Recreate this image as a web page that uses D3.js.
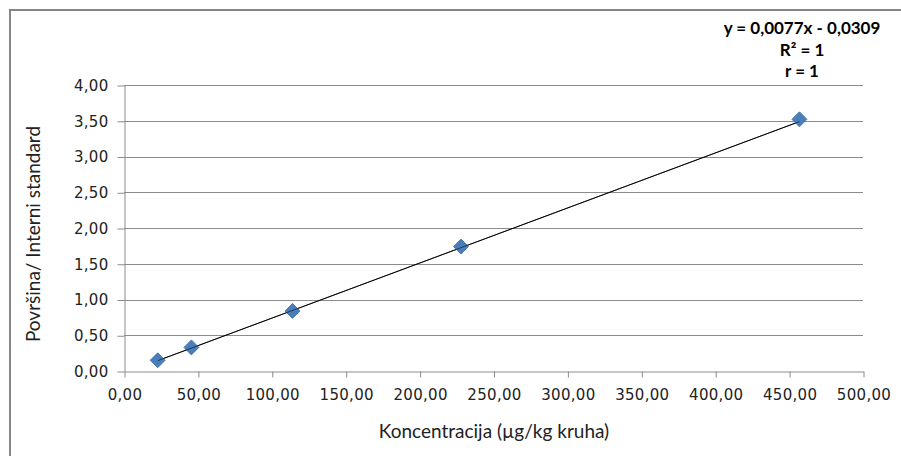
<!DOCTYPE html>
<html>
<head>
<meta charset="utf-8">
<script src="https://cdn.jsdelivr.net/npm/d3@7"></script>
<style>
  body { margin: 0; background: #fff; }
</style>
</head>
<body>
<svg id="mainsvg" width="901" height="456"></svg>
<script>
// data
const koncentracija = [22.8, 45.6, 114, 228, 457];
const povrsina = [0.15, 0.33, 0.84, 1.74, 3.52];
const xTicks = [0, 50, 100, 150, 200, 250, 300, 350, 400, 450, 500];
const yTicks = [0, 0.5, 1, 1.5, 2, 2.5, 3, 3.5, 4];
const trend = [0.0077, -0.0309]; // slope, intercept
const equationLines = ['y = 0,0077x - 0,0309', 'R² = 1', 'r = 1'];

const svg = d3.select('#mainsvg');
const margin = { top: 85, left: 124, right: 38, bottom: 85 };
const fmt = v => d3.format('.2f')(v).replace('.', ',');

// outer chart border
svg.append('path')
    .attr('d', 'M10,456 L10,10 L901,10')
    .attr('fill', 'none')
    .attr('stroke', '#868686')
    .attr('stroke-width', 2);

const g = svg.append('g')
    .attr('transform', `translate(${margin.left},${margin.top})`);

const x = d3.scaleLinear().domain([0, 500]).range([0, 739]);
const y = d3.scaleLinear().domain([0, 4]).range([286, 0]);

// gridlines
g.selectAll('.grid').data(yTicks.slice(1)).enter()
    .append('line')
    .attr('x1', 0).attr('x2', x(500))
    .attr('y1', d => Math.round(y(d)) + 0.5)
    .attr('y2', d => Math.round(y(d)) + 0.5)
    .attr('stroke', '#8c8c8c')
    .attr('stroke-width', 1);

// y axis
const yAxis = g.append('g')
    .attr('transform', 'translate(0.5,0.5)')
    .call(d3.axisLeft(y).tickValues(yTicks).tickFormat(fmt).tickSize(7).tickSizeOuter(0).tickPadding(9));
// x axis
const xAxis = g.append('g')
    .attr('transform', `translate(0.5,${Math.round(y(0)) + 0.5})`)
    .call(d3.axisBottom(x).tickValues(xTicks).tickFormat(fmt).tickSize(6).tickSizeOuter(0).tickPadding(12));

[yAxis, xAxis].forEach(a => {
    a.selectAll('path, line').attr('stroke', '#8c8c8c');
    a.selectAll('text')
        .attr('fill', '#222')
        .attr('font-family', 'DejaVu Sans')
        .attr('font-size', '15px')
        .attr('letter-spacing', '0.3px');
});

// trendline across the data range
const x0 = d3.min(koncentracija), x1 = d3.max(koncentracija);
const trendLine = () => g.append('line')
    .attr('x1', x(x0)).attr('y1', y(trend[0] * x0 + trend[1]))
    .attr('x2', x(x1)).attr('y2', y(trend[0] * x1 + trend[1]))
    .attr('stroke', '#000');
trendLine().attr('stroke-width', 1);

// diamond markers
const diamond = d3.symbol().type(d3.symbolSquare).size(112);
g.selectAll('.pt').data(koncentracija).enter()
    .append('path')
    .attr('d', diamond)
    .attr('transform', (d, i) => `translate(${x(d)},${y(povrsina[i])}) rotate(45)`)
    .attr('fill', '#4a7ebb')
    .attr('stroke', '#3f6fa8')
    .attr('stroke-width', 0.8);

// line on top of markers (Excel draws it over)
trendLine().attr('stroke-width', 0.8).attr('opacity', 0.7);

// axis titles
svg.append('text')
    .attr('x', 494).attr('y', 438)
    .attr('text-anchor', 'middle')
    .attr('font-family', 'Lato, "Open Sans", sans-serif')
    .attr('font-size', '19px')
    .attr('fill', '#222')
    .text('Koncentracija (µg/kg kruha)');

svg.append('text')
    .attr('transform', 'translate(40,234) rotate(-90)')
    .attr('text-anchor', 'middle')
    .attr('font-family', 'Lato, "Open Sans", sans-serif')
    .attr('font-size', '19px')
    .attr('fill', '#222')
    .text('Površina/ Interni standard');

// regression equation
svg.selectAll('.eq').data(equationLines).enter()
    .append('text')
    .attr('x', 802)
    .attr('y', (d, i) => 34 + i * 21.5)
    .attr('text-anchor', 'middle')
    .attr('font-family', 'Lato, "Open Sans", sans-serif')
    .attr('font-weight', 'bold')
    .attr('font-size', '17px')
    .attr('fill', '#000')
    .text(d => d);
</script>
</body>
</html>
